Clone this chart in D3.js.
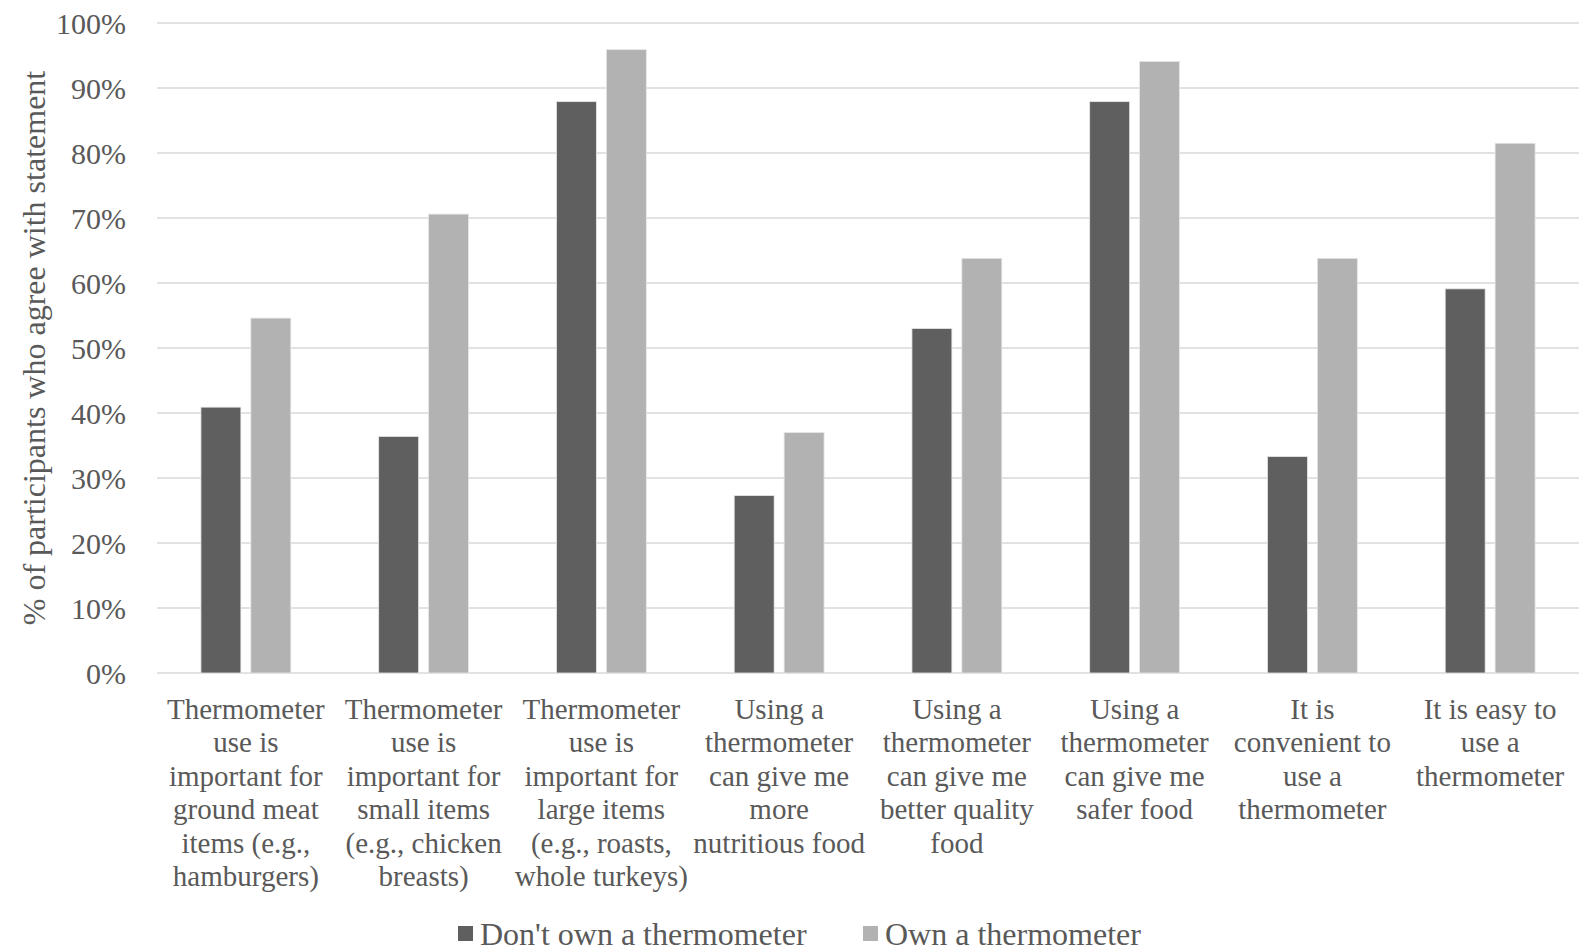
<!DOCTYPE html>
<html>
<head>
<meta charset="utf-8">
<script src="https://cdn.jsdelivr.net/npm/d3@7"></script>
<style>
  body { margin: 0; background: #fff; }
  text { font-family: "Liberation Serif", "Times New Roman", serif; fill: #595959; }
</style>
</head>
<body>
<script>
// category labels, already broken into lines like the original
const categories = [
  ["Thermometer", "use is", "important for", "ground meat", "items (e.g.,", "hamburgers)"],
  ["Thermometer", "use is", "important for", "small items", "(e.g., chicken", "breasts)"],
  ["Thermometer", "use is", "important for", "large items", "(e.g., roasts,", "whole turkeys)"],
  ["Using a", "thermometer", "can give me", "more", "nutritious food"],
  ["Using a", "thermometer", "can give me", "better quality", "food"],
  ["Using a", "thermometer", "can give me", "safer food"],
  ["It is", "convenient to", "use a", "thermometer"],
  ["It is easy to", "use a", "thermometer"]
];
const seriesNames = ["Don't own a thermometer", "Own a thermometer"];
const dontOwn = [40.9, 36.4, 87.9, 27.3, 53.0, 87.9, 33.3, 59.1];
const own = [54.6, 70.6, 95.9, 37.0, 63.8, 94.1, 63.8, 81.5];
const colors = ["#5f5f5f", "#b2b2b2"];
const yTicks = [0, 10, 20, 30, 40, 50, 60, 70, 80, 90, 100];

const w = 1579, h = 951;
const plotLeft = 157, plotRight = 1579, plotTop = 23, plotBottom = 673;

const svg = d3.select("body").append("svg")
  .attr("width", w)
  .attr("height", h);

const y = d3.scaleLinear().domain([0, 100]).range([plotBottom, plotTop]);
const x0 = d3.scaleBand().domain(d3.range(categories.length)).range([plotLeft, plotRight]);
const x1 = d3.scaleBand().domain([0, 1]).range([0, x0.bandwidth()])
  .paddingInner(0.2).paddingOuter(0.88);

// gridlines
svg.append("g").selectAll("line")
  .data(yTicks)
  .enter().append("line")
  .attr("x1", plotLeft).attr("x2", plotRight)
  .attr("y1", d => y(d)).attr("y2", d => y(d))
  .attr("stroke", "#d9d9d9")
  .attr("stroke-width", 1.3);

// y tick labels
svg.append("g").selectAll("text")
  .data(yTicks)
  .enter().append("text")
  .attr("x", 126)
  .attr("y", d => y(d))
  .attr("dy", "0.35em")
  .attr("text-anchor", "end")
  .style("font-size", "30px")
  .text(d => d + "%");

// bars
const rows = categories.map((c, i) => [dontOwn[i], own[i]]);
const groups = svg.append("g").selectAll("g")
  .data(rows)
  .enter().append("g")
  .attr("transform", (d, i) => "translate(" + x0(i) + ",0)");

groups.selectAll("rect")
  .data(d => d)
  .enter().append("rect")
  .attr("x", (d, j) => x1(j))
  .attr("y", d => y(d))
  .attr("width", x1.bandwidth())
  .attr("height", d => y(0) - y(d))
  .attr("fill", (d, j) => colors[j])
  .attr("stroke", "#e6e6e6")
  .attr("stroke-width", 0.8);

// category labels
const labels = svg.append("g").selectAll("text")
  .data(categories)
  .enter().append("text")
  .attr("x", (d, i) => x0(i) + x0.bandwidth() / 2)
  .attr("y", 719)
  .attr("text-anchor", "middle")
  .style("font-size", "29px");

labels.selectAll("tspan")
  .data(d => d)
  .enter().append("tspan")
  .attr("x", function () { return this.parentNode.getAttribute("x"); })
  .attr("dy", (d, k) => k === 0 ? 0 : 33.4)
  .text(d => d);

// y axis title
svg.append("text")
  .attr("transform", "translate(45," + 348 + ") rotate(-90)")
  .attr("text-anchor", "middle")
  .style("font-size", "32px")
  .text("% of participants who agree with statement");

// legend
const legendX = [458, 863];
const legend = svg.append("g").selectAll("g")
  .data(seriesNames)
  .enter().append("g")
  .attr("transform", (d, i) => "translate(" + legendX[i] + ",934)");

legend.append("rect")
  .attr("x", 0).attr("y", -8)
  .attr("width", 15).attr("height", 15)
  .attr("fill", (d, i) => colors[i]);

legend.append("text")
  .attr("x", 22)
  .attr("y", 0)
  .attr("dy", "0.35em")
  .style("font-size", "32px")
  .text(d => d);
</script>
</body>
</html>
